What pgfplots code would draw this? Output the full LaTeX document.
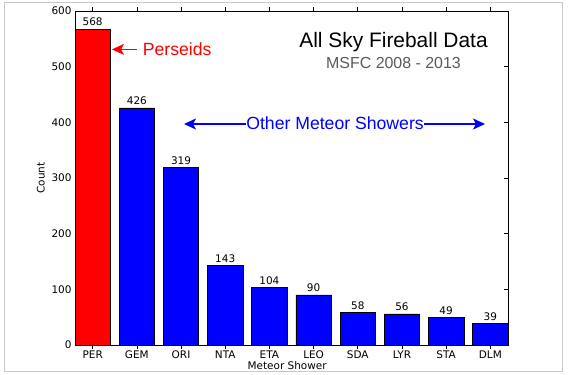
\documentclass[border=0pt]{standalone}
\usepackage{fontspec}
\setmainfont{DejaVu Sans}
\newfontfamily\arial{Liberation Sans}
\usepackage{pgfplots}
\pgfplotsset{compat=1.18}
\usetikzlibrary{arrows.meta}
\definecolor{framegray}{RGB}{200,200,200}
\begin{document}
\begin{tikzpicture}[x=1bp,y=1bp]
\path[use as bounding box] (0,0) rectangle (573,374);
\draw[framegray, line width=1bp] (4,3) rectangle (562,371);
\begin{axis}[
  at={(75bp,29bp)}, anchor=south west,
  scale only axis, width=433bp, height=334bp,
  xmin=-0.4, xmax=9.4, ymin=0, ymax=600,
  xtick={0,...,9}, xticklabels={PER,GEM,ORI,NTA,ETA,LEO,SDA,LYR,STA,DLM},
  ytick={0,100,...,600},
  tick align=inside, tick pos=both,
  major tick length=4bp,
  tick style={black, line width=0.6bp},
  axis line style={line width=0.8bp},
  ticklabel style={font=\fontsize{10.5}{12}\selectfont},
  xticklabel style={anchor=base, yshift=-9.8bp},
  /pgf/number format/assume math mode=true,
  xlabel={Meteor Shower}, ylabel={Count},
  label style={font=\fontsize{10.5}{12}\selectfont},
  xlabel style={at={(axis description cs:0.49,0)}, anchor=base, yshift=-24.7bp},
  ybar, bar width=0.8, bar shift=0pt,
  nodes near coords,
  nodes near coords style={font=\fontsize{10.5}{12}\selectfont, black, anchor=base, yshift=3bp},
  clip=false,
]
\addplot[fill=red, draw=black, line width=0.6bp] coordinates {(0,568)};
\addplot[fill=blue, draw=black, line width=0.6bp] coordinates {
(1,426) (2,319) (3,143) (4,104) (5,90) (6,58) (7,56) (8,49) (9,39)};
\node[anchor=base, font=\arial\fontsize{21}{24}\selectfont] at (axis cs:6.809,534.4) {All Sky Fireball Data};
\node[anchor=base, font=\arial\fontsize{16}{18}\selectfont, text=black!65] at (axis cs:6.809,497) {MSFC 2008 - 2013};
\draw[red, line width=1.5bp, -{Stealth[length=12bp,width=11bp,inset=3bp]}] (axis cs:1.003,531) -- (axis cs:0.4375,531);
\node[anchor=base west, inner sep=0pt, text=red, font=\arial\fontsize{17.7}{20}\selectfont] at (axis cs:1.132,519.6) {Perseids};
\node[anchor=base, inner sep=0pt, text=blue, font=\arial\fontsize{17.7}{20}\selectfont] at (axis cs:5.485,387.5) {Other Meteor Showers};
\draw[blue, line width=1.5bp, -{Stealth[length=12bp,width=11bp,inset=3bp]}] (axis cs:3.471,397) -- (axis cs:2.067,397);
\draw[blue, line width=1.5bp, -{Stealth[length=12bp,width=11bp,inset=3bp]}] (axis cs:7.5,397) -- (axis cs:8.88,397);
\end{axis}
\end{tikzpicture}
\end{document}
